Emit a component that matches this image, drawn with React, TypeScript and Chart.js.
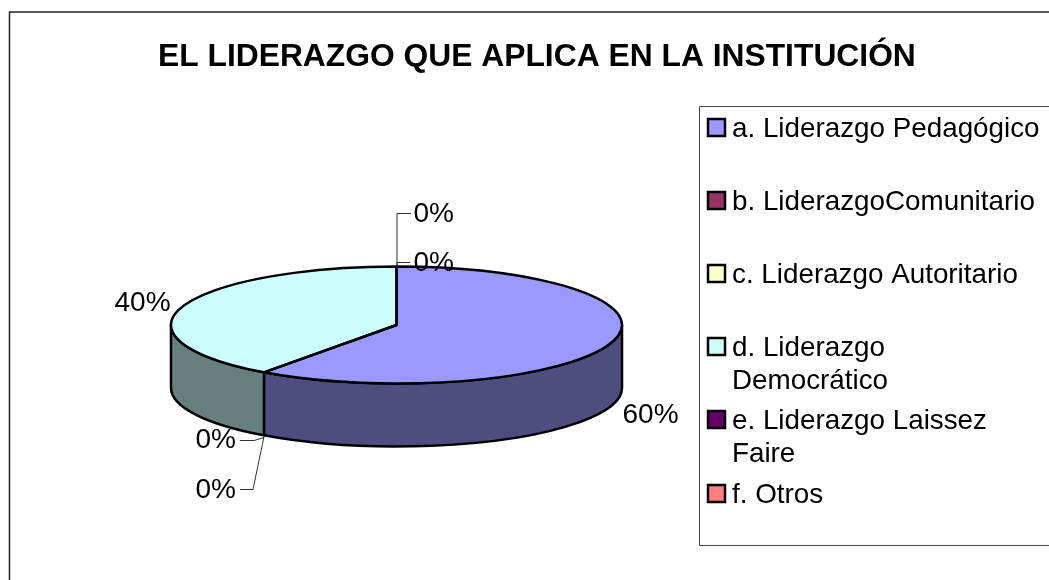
import React, { useEffect, useRef } from "react";
import { Chart, registerables } from "chart.js";

Chart.register(...registerables);

const TITLE = "EL LIDERAZGO QUE APLICA EN LA INSTITUCIÓN";
const categories = [
  "a. Liderazgo Pedagógico",
  "b. LiderazgoComunitario",
  "c. Liderazgo Autoritario",
  "d. Liderazgo Democrático",
  "e. Liderazgo Laissez Faire",
  "f. Otros",
];
const legendLines = [
  ["a. Liderazgo Pedagógico"],
  ["b. LiderazgoComunitario"],
  ["c. Liderazgo Autoritario"],
  ["d. Liderazgo", "Democrático"],
  ["e. Liderazgo Laissez", "Faire"],
  ["f. Otros"],
];
const values = [60, 0, 0, 40, 0, 0];
const colors = ["#9999FF", "#993366", "#FFFFCC", "#CCFFFF", "#660066", "#FF8080"];
const wallColors = ["#4D4D80", "#4D1A33", "#808066", "#668080", "#330033", "#804040"];

const FONT = '"Liberation Sans", Arial, sans-serif';
const TILT = 58.5 / 225.5;
const DEPTH = 63;

// label anchor (text left, baseline) relative to the pie centre, and leader polyline
const labelPlacement: { dx: number; dy: number; leader?: [number, number][] }[] = [
  { dx: 226, dy: 98 },
  { dx: 17, dy: -103, leader: [[0, -58], [0, -112], [14, -112]] },
  { dx: 17, dy: -54, leader: [[0, -58], [0, -63], [13, -63]] },
  { dx: -282, dy: -14 },
  { dx: -201, dy: 123, leader: [[-133, 112], [-143, 115], [-157, 115]] },
  { dx: -201, dy: 173, leader: [[-133, 111], [-144, 164], [-157, 164]] },
];

const tiltPlugin = {
  id: "tilt3d",
  beforeDatasetsDraw(chart: any) {
    const ctx = chart.ctx;
    const arcs = chart.getDatasetMeta(0).data;
    ctx.save();
    ctx.lineWidth = 2.5;
    ctx.strokeStyle = "#000";
    ctx.lineJoin = "round";
    arcs.forEach((arc: any, i: number) => {
      const { x, y, startAngle, endAngle, outerRadius } = arc.getProps(
        ["x", "y", "startAngle", "endAngle", "outerRadius"], true);
      if (endAngle - startAngle <= 0) return;
      const a1 = Math.max(startAngle, 0);
      const a2 = Math.min(endAngle, Math.PI);
      if (a2 <= a1) return;
      const ry = outerRadius * TILT;
      ctx.beginPath();
      ctx.ellipse(x, y, outerRadius, ry, 0, a1, a2);
      ctx.ellipse(x, y + DEPTH, outerRadius, ry, 0, a2, a1, true);
      ctx.closePath();
      ctx.fillStyle = wallColors[i];
      ctx.fill();
      ctx.stroke();
    });
    ctx.restore();
    const { x, y } = arcs[0].getProps(["x", "y"], true);
    ctx.save();
    ctx.translate(x, y);
    ctx.scale(1, TILT);
    ctx.translate(-x, -y);
  },
  afterDatasetsDraw(chart: any) {
    const ctx = chart.ctx;
    ctx.restore();
    const arcs = chart.getDatasetMeta(0).data;
    ctx.save();
    ctx.lineWidth = 2.5;
    ctx.strokeStyle = "#000";
    ctx.lineJoin = "round";
    arcs.forEach((arc: any) => {
      const { x, y, startAngle, endAngle, outerRadius } = arc.getProps(
        ["x", "y", "startAngle", "endAngle", "outerRadius"], true);
      if (endAngle - startAngle <= 0) return;
      ctx.beginPath();
      ctx.moveTo(x, y);
      ctx.ellipse(x, y, outerRadius, outerRadius * TILT, 0, startAngle, endAngle);
      ctx.closePath();
      ctx.stroke();
    });
    ctx.restore();
  },
  afterDraw(chart: any) {
    const ctx = chart.ctx;
    const arcs = chart.getDatasetMeta(0).data;
    const { x: cx, y: cy } = arcs[0].getProps(["x", "y"], true);
    const total = values.reduce((a, b) => a + b, 0);

    ctx.save();
    // frame
    ctx.strokeStyle = "#222";
    ctx.lineWidth = 1.5;
    ctx.beginPath();
    ctx.moveTo(9.5, 580);
    ctx.lineTo(9.5, 12);
    ctx.lineTo(1049, 12);
    ctx.stroke();

    // title
    ctx.fillStyle = "#000";
    ctx.textBaseline = "alphabetic";
    ctx.textAlign = "left";
    ctx.font = `bold 31.8px ${FONT}`;
    ctx.fillText(TITLE, 158, 66);

    // legend box
    ctx.strokeStyle = "#444";
    ctx.lineWidth = 1;
    ctx.beginPath();
    ctx.moveTo(1049, 106.5);
    ctx.lineTo(699.5, 106.5);
    ctx.lineTo(699.5, 545.5);
    ctx.lineTo(1049, 545.5);
    ctx.stroke();

    const rowBaselines = [137, 210, 283, 356, 429, 503];
    ctx.font = `27.8px ${FONT}`;
    legendLines.forEach((lines, i) => {
      const base = rowBaselines[i];
      ctx.fillStyle = colors[i];
      ctx.fillRect(708, base - 18, 17, 17);
      ctx.strokeStyle = "#000";
      ctx.lineWidth = 2.5;
      ctx.strokeRect(708, base - 18, 17, 17);
      ctx.fillStyle = "#000";
      lines.forEach((t, j) => ctx.fillText(t, 732, base + j * 32.5));
    });

    // data labels
    labelPlacement.forEach((p, i) => {
      if (p.leader) {
        ctx.strokeStyle = "#333";
        ctx.lineWidth = 1;
        ctx.beginPath();
        p.leader.forEach(([dx, dy], k) => {
          if (k === 0) ctx.moveTo(cx + dx + 0.5, cy + dy + 0.5);
          else ctx.lineTo(cx + dx + 0.5, cy + dy + 0.5);
        });
        ctx.stroke();
      }
      ctx.fillStyle = "#000";
      ctx.font = `28px ${FONT}`;
      ctx.fillText(`${Math.round((values[i] / total) * 100)}%`, cx + p.dx, cy + p.dy);
    });
    ctx.restore();
  },
};

export default function App() {
  const ref = useRef<HTMLCanvasElement>(null);
  useEffect(() => {
    const chart = new Chart(ref.current!, {
      type: "pie",
      data: {
        labels: categories,
        datasets: [{ data: values, backgroundColor: colors, borderWidth: 0 }],
      },
      options: {
        animation: false,
        responsive: false,
        layout: { padding: { left: 171, right: 427, top: 99.5, bottom: 29.5 } },
        plugins: {
          legend: { display: false },
          title: { display: false },
          tooltip: { enabled: false },
        },
      },
      plugins: [tiltPlugin],
    });
    return () => chart.destroy();
  }, []);
  return (
    <div style={{ position: "fixed", left: 0, top: 0, width: 1049, height: 580, background: "#fff", overflow: "hidden" }}>
      <canvas ref={ref} width={1049} height={580} style={{ display: "block" }} />
    </div>
  );
}
